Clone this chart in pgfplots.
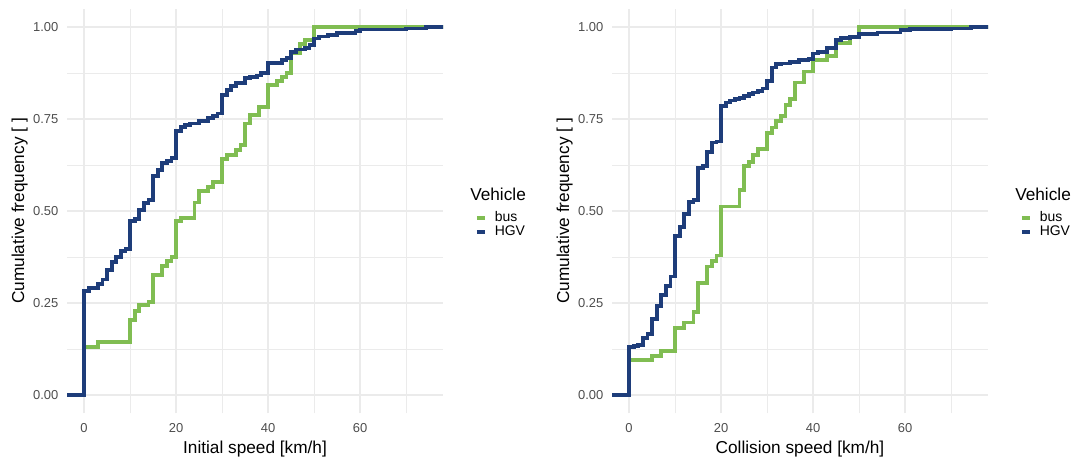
\documentclass[border=0pt]{standalone}
\usepackage{fontspec}
\setmainfont{Liberation Sans}
\usepackage{pgfplots}
\pgfplotsset{compat=1.18}
\definecolor{busgreen}{RGB}{128,189,82}
\definecolor{hgvblue}{RGB}{30,61,122}
\definecolor{gridgray}{RGB}{235,235,235}
\definecolor{tickgray}{RGB}{77,77,77}
\pgfplotsset{
 ecdfpanel/.style={
  scale only axis, width=376bp, height=404.8bp, anchor=south west,
  xmin=-3.7, xmax=78.0, ymin=-0.05, ymax=1.05,
  xtick={0,20,40,60}, xticklabels={0,20,40,60},
  ytick={0,0.25,0.5,0.75,1}, yticklabels={0.00,0.25,0.50,0.75,1.00},
  minor xtick={10,30,50,70}, minor ytick={0.125,0.375,0.625,0.875},
  grid=both,
  major grid style={gridgray, line width=1.6bp},
  minor grid style={gridgray, line width=0.8bp},
  axis line style={draw=none},
  major tick style={draw=none}, minor tick style={draw=none},
  tick label style={font=\fontsize{13}{15.6}\selectfont, text=tickgray, inner sep=0pt},
  xticklabel shift=10bp, yticklabel shift=8.5bp,
  label style={font=\fontsize{17.3}{20}\selectfont, inner sep=0pt},
  xlabel style={at={(axis description cs:0.5,-0.068)}, anchor=north},
  ylabel style={at={(axis description cs:-0.1037,0.5)}, anchor=south},
  legend style={at={(axis description cs:1.085,0.4654)}, anchor=west, draw=none, fill=none,
    inner sep=0pt, row sep=0pt, column sep=8bp, font=\fontsize{14}{16.8}\selectfont,
    nodes={inner sep=0pt, text height=10bp, text depth=4bp}},
  legend cell align=left,
  legend image code/.code={\draw[#1, line width=3.6bp, line cap=butt] (0bp,0bp) -- (8bp,0bp);},
  every axis plot/.append style={line width=3.8bp, const plot},
  ylabel={Cumulative frequency [ ]},
  after end axis/.code={\node[anchor=base west, inner sep=0pt, font=\fontsize{17.3}{20}\selectfont] at (axis description cs:1.072,0.527) {Vehicle};},
 }
}
\begin{document}
\begin{tikzpicture}
\useasboundingbox (0,0) rectangle (1078bp,462bp);
\begin{axis}[ecdfpanel, at={(67bp,48.6bp)}, xlabel={Initial speed [km/h]}]
\addplot[busgreen] coordinates {(-10,0) (0,0.131) (3,0.145) (10,0.204) (11,0.229) (12,0.245) (14,0.252) (15,0.326) (17,0.351) (18,0.365) (19,0.374) (20,0.473) (21,0.480) (24,0.523) (25,0.555) (27,0.566) (28,0.578) (30,0.641) (31,0.652) (33,0.666) (34,0.679) (35,0.738) (36,0.761) (38,0.783) (40,0.842) (42,0.853) (43,0.865) (44,0.876) (45,0.928) (47,0.953) (48,0.965) (50,1) (90,1)};
\addlegendentry{bus}
\addplot[hgvblue] coordinates {(-10,0) (0,0.283) (1,0.290) (3,0.302) (4,0.314) (5,0.340) (6,0.361) (7,0.376) (8,0.392) (9,0.397) (10,0.473) (11,0.478) (12,0.503) (13,0.521) (14,0.530) (15,0.595) (16,0.611) (17,0.631) (18,0.636) (19,0.643) (20,0.718) (21,0.729) (22,0.734) (23,0.738) (25,0.745) (27,0.752) (28,0.759) (29,0.765) (30,0.815) (31,0.829) (32,0.840) (33,0.847) (35,0.861) (36,0.865) (37.5,0.868) (38.5,0.874) (40,0.903) (43,0.910) (44,0.916) (45,0.933) (46,0.939) (48,0.944) (49,0.951) (50,0.969) (51,0.974) (53,0.978) (55,0.983) (59,0.990) (60,0.993) (70,0.996) (74.3,1) (90,1)};
\addlegendentry{HGV}
\end{axis}
\begin{axis}[ecdfpanel, at={(612bp,48.6bp)}, xlabel={Collision speed [km/h]}]
\addplot[busgreen] coordinates {(-10,0) (0,0.095) (5,0.106) (7,0.120) (10,0.181) (12,0.197) (14,0.226) (15,0.305) (17,0.349) (18,0.365) (19,0.379) (20,0.512) (24,0.557) (25,0.622) (26,0.634) (27,0.652) (28,0.668) (30,0.713) (31,0.727) (32,0.745) (33,0.759) (34,0.788) (35,0.804) (36,0.849) (38,0.879) (40,0.910) (43,0.922) (45,0.956) (48,0.973) (50,1) (90,1)};
\addlegendentry{bus}
\addplot[hgvblue] coordinates {(-10,0) (0,0.130) (1,0.133) (2,0.136) (3,0.154) (4,0.166) (5,0.206) (6,0.242) (7,0.272) (8,0.296) (9,0.322) (10,0.433) (11,0.457) (12,0.491) (13,0.524) (14,0.529) (15,0.616) (16,0.622) (17,0.661) (18,0.686) (19,0.689) (20,0.785) (21,0.795) (22,0.800) (23,0.804) (24,0.808) (25,0.813) (26,0.819) (27,0.822) (28,0.826) (29,0.833) (30,0.854) (31,0.890) (32,0.899) (33,0.901) (35,0.905) (37,0.910) (39,0.914) (40,0.928) (41,0.933) (43,0.942) (45,0.965) (46,0.971) (48,0.973) (50,0.980) (54,0.985) (59,0.991) (61,0.995) (70,0.996) (74.3,1) (90,1)};
\addlegendentry{HGV}
\end{axis}
\end{tikzpicture}
\end{document}
